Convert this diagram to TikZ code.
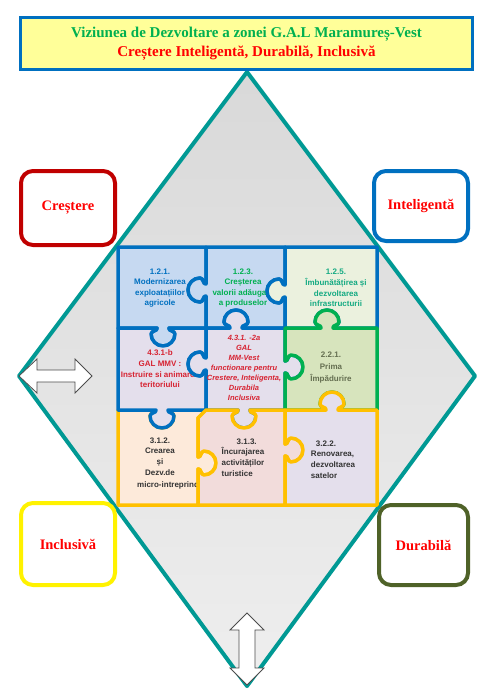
\documentclass[tikz,border=0pt]{standalone}
\usepackage{fontspec}
\setmainfont{Liberation Serif}
\setsansfont{Liberation Sans}
\definecolor{teal1}{RGB}{0,153,148}
\definecolor{blue1}{RGB}{0,112,192}
\definecolor{green1}{RGB}{0,176,80}
\definecolor{teal2}{RGB}{20,170,130}
\definecolor{red2}{RGB}{215,35,50}
\definecolor{crimson1}{RGB}{192,0,0}
\definecolor{yellow1}{RGB}{255,255,153}
\definecolor{olive1}{RGB}{79,98,40}
\definecolor{olive2}{RGB}{100,110,80}
\definecolor{gold1}{RGB}{255,192,0}
\definecolor{pblue}{RGB}{198,217,241}
\definecolor{pgreen}{RGB}{235,241,222}
\definecolor{plav}{RGB}{228,223,236}
\definecolor{pgreen2}{RGB}{215,228,189}
\definecolor{ppeach}{RGB}{253,234,218}
\definecolor{ppink}{RGB}{242,220,219}
\newcommand{\knob}[6]{-- ({#1-6*(#3)},{#2-6*(#4)}) .. controls ({#1-5*(#3)+3*(#5)},{#2-5*(#4)+3*(#6)}) and ({#1-12*(#3)+2.5*(#5)},{#2-12*(#4)+2.5*(#6)}) .. ({#1-12*(#3)+6*(#5)},{#2-12*(#4)+6*(#6)}) .. controls ({#1-12*(#3)+12.6*(#5)},{#2-12*(#4)+12.6*(#6)}) and ({#1-6.6*(#3)+18*(#5)},{#2-6.6*(#4)+18*(#6)}) .. ({#1+18*(#5)},{#2+18*(#6)}) .. controls ({#1+6.6*(#3)+18*(#5)},{#2+6.6*(#4)+18*(#6)}) and ({#1+12*(#3)+12.6*(#5)},{#2+12*(#4)+12.6*(#6)}) .. ({#1+12*(#3)+6*(#5)},{#2+12*(#4)+6*(#6)}) .. controls ({#1+12*(#3)+2.5*(#5)},{#2+12*(#4)+2.5*(#6)}) and ({#1+5*(#3)+3*(#5)},{#2+5*(#4)+3*(#6)}) .. ({#1+6*(#3)},{#2+6*(#4)})}
\begin{document}
\begin{tikzpicture}[x=1pt,y=-1pt,
	piece/.style={line width=3.5pt, line join=round},
	txt/.style={font=\fontsize{8}{10.6}\selectfont\sffamily\bfseries, align=center, inner sep=0pt},
	cornerbox/.style={fill=white, rounded corners=12pt, line width=4pt, text=red, font=\fontsize{14.5}{17}\selectfont\bfseries},
	blockarrow/.style={fill=white, draw=black!70, line width=0.8pt, line join=miter}]
			\useasboundingbox (0,0) rectangle (500,696);
			\shade[top color=gray!30, bottom color=gray!13] (247,72) -- (475,376) -- (247,686) -- (19,376) -- cycle;
			\draw[line width=4pt, teal1, line join=round] (247,72) -- (475,376) -- (247,686) -- (19,376) -- cycle;
			\node[cornerbox, draw=crimson1, minimum width=94pt, minimum height=74pt](cre) at (68,208){Creștere};
			\node[cornerbox, draw=blue1, minimum width=94pt, minimum height=70pt](inte) at (421,206){Inteligentă};
			\node[cornerbox, draw=yellow, minimum width=94pt, minimum height=82pt](incl) at (68,544){Inclusivă};
			\node[cornerbox, draw=olive1, minimum width=89pt, minimum height=80pt](dur) at (423.5,545){Durabilă};
			\filldraw[blockarrow] (19,376) -- (37,359) -- (37,370) -- (75,370) -- (75,359) -- (92,376) -- (75,393) -- (75,382) -- (37,382) -- (37,393) -- cycle;
			\filldraw[blockarrow] (247,613) -- (264,630) -- (255,630) -- (255,668) -- (264,668) -- (247,685) -- (230,668) -- (239,668) -- (239,630) -- (230,630) -- cycle;
			\filldraw[piece, fill=pblue, draw=blue1] (118,247) -- (206,247) \knob{206}{290}{0}{1}{-1}{0} -- (206,328) \knob{163}{328}{-1}{0}{0}{1} -- (118,328) -- cycle;
			\node[txt, text=blue1](t121) at (160,288){1.2.1.\\Modernizarea\\exploatațiilor\\agricole};
			\filldraw[piece, fill=pblue, draw=blue1] (206,247) -- (285,247) \knob{285}{291}{0}{1}{-1}{0} -- (285,328) \knob{236}{328}{-1}{0}{0}{-1} -- (206,328) \knob{206}{290}{0}{-1}{-1}{0} -- cycle;
			\node[txt, text=green1](t123) at (243,288){1.2.3.\\Creșterea\\valorii adăugate\\a produselor};
			\filldraw[piece, fill=pgreen, draw=blue1] (285,247) -- (377,247) -- (377,328) \knob{327}{328}{-1}{0}{0}{-1} -- (285,328) \knob{285}{291}{0}{-1}{-1}{0} -- cycle;
			\node[txt, text=teal2](t125) at (336,288){1.2.5.\\Îmbunătățirea și\\dezvoltarea\\infrastructurii};
			\filldraw[piece, fill=ppeach, draw=gold1] (118,410) \knob{162}{410}{1}{0}{0}{1} -- (206,410) -- (198,418) \knob{198}{463}{0}{1}{1}{0} -- (198,505) -- (118,505) -- cycle;
			\node[txt, text=black!80](t312) at (160,456.5){3.1.2.\\Crearea\\și\\Dezv.de};
			\node[txt, text=black!80, anchor=west](t312b) at (137,485){micro-intreprinderi};
			\filldraw[piece, fill=plav, draw=blue1] (118,328) \knob{163}{328}{1}{0}{0}{1} -- (206,328) \knob{206}{364}{0}{1}{-1}{0} -- (206,410) \knob{162}{410}{-1}{0}{0}{1} -- (118,410) -- cycle;
			\node[txt, text=red2](t431b) at (160,369){4.3.1-b\\GAL MMV :\\Instruire si animarea\\teritoriului};
			\filldraw[piece, fill=plav, draw=blue1] (206,328) \knob{236}{328}{1}{0}{0}{-1} -- (285,328) \knob{285}{367}{0}{1}{1}{0} -- (285,410) \knob{244}{410}{-1}{0}{0}{1} -- (206,410) \knob{206}{364}{0}{-1}{-1}{0} -- cycle;
			\node[txt, text=red2, font=\fontsize{7.5}{10}\selectfont\sffamily\bfseries\itshape](t431a) at (244,368){4.3.1. -2a\\GAL\\MM-Vest\\functionare  pentru\\Crestere, Inteligenta,\\Durabila\\Inclusiva};
			\filldraw[piece, fill=pgreen2, draw=green1] (285,328) \knob{327}{328}{1}{0}{0}{-1} -- (377,328) -- (377,410) \knob{332}{410}{-1}{0}{0}{-1} -- (285,410) \knob{285}{367}{0}{-1}{1}{0} -- cycle;
			\node[txt, text=olive2, font=\fontsize{8}{12}\selectfont\sffamily\bfseries](t221) at (331,368){2.2.1.\\Prima\\Împădurire};
			\filldraw[piece, fill=ppink, draw=gold1] (206,410) \knob{244}{410}{1}{0}{0}{1} -- (285,410) \knob{285}{450}{0}{1}{1}{0} -- (285,505) -- (198,505) \knob{198}{463}{0}{-1}{1}{0} -- (198,418) -- cycle;
			\node[txt, text=black!80, align=left](t313) at (243,457.5){\hspace*{15pt}3.1.3.\\Încurajarea\\activităților\\turistice};
			\filldraw[piece, fill=plav, draw=gold1] (285,410) \knob{332}{410}{1}{0}{0}{-1} -- (377,410) -- (377,505) -- (285,505) \knob{285}{450}{0}{-1}{1}{0} -- cycle;
			\node[txt, text=black!80, align=left](t322) at (333,459.5){\hspace*{5pt}3.2.2.\\Renovarea,\\dezvoltarea\\satelor};
			\node[draw=blue1, fill=yellow1, line width=3pt, minimum width=452pt, minimum height=52pt, align=center, font=\fontsize{15}{19}\selectfont\bfseries](viz) at (246.5,43.5){\textcolor{green1}{Viziunea de Dezvoltare a zonei G.A.L Maramureș-Vest}\\\textcolor{red}{Creștere Inteligentă, Durabilă, Inclusivă}};
\end{tikzpicture}
\end{document}
